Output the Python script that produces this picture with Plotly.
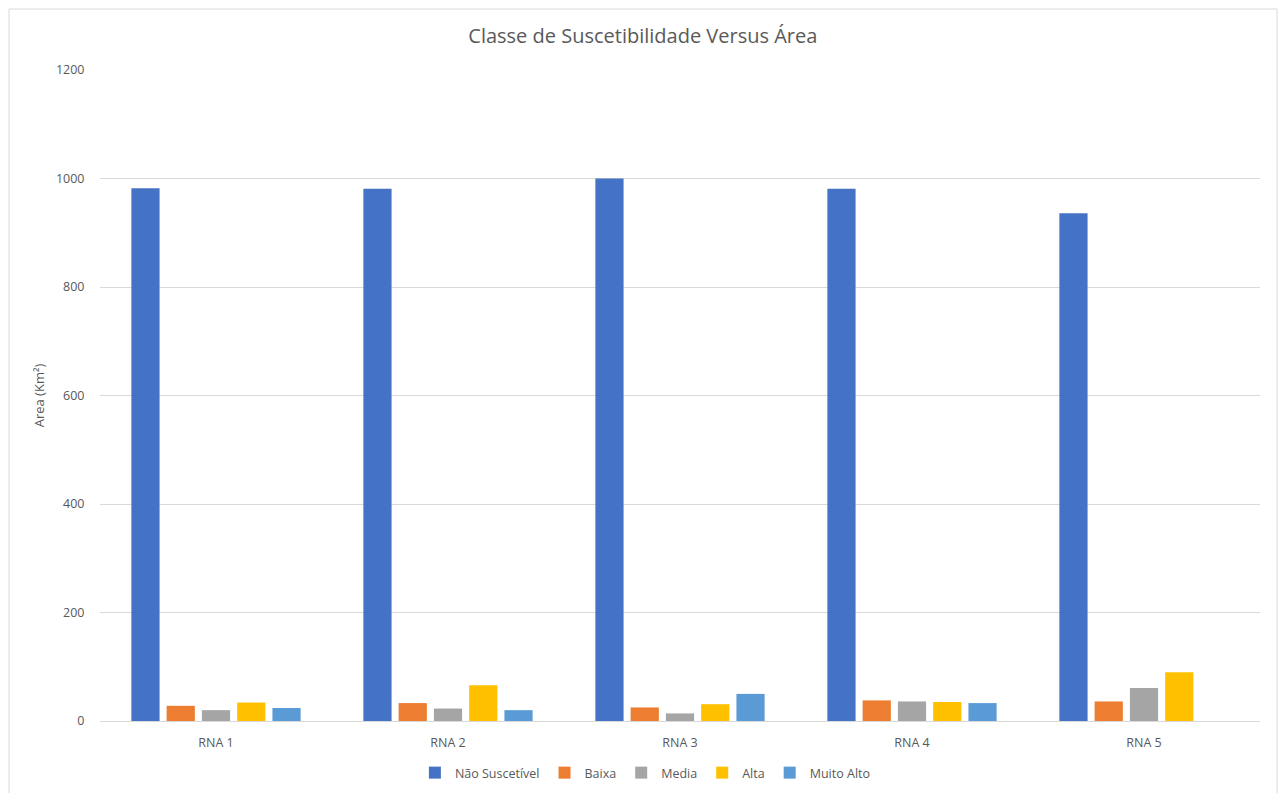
import plotly.graph_objects as go

# Susceptibility class areas (km²) per neural-network model
categories = ["RNA 1", "RNA 2", "RNA 3", "RNA 4", "RNA 5"]
nao_suscetivel = [982, 981, 1000, 981, 936]
baixa = [28, 33, 25, 38, 36]
media = [20, 23, 14, 36, 61]
alta = [34, 66, 31, 35, 90]
muito_alto = [24, 20, 50, 33, 0]

series = [
    ("Não Suscetível", nao_suscetivel, "#4472C4"),
    ("Baixa", baixa, "#ED7D31"),
    ("Media", media, "#A5A5A5"),
    ("Alta", alta, "#FFC000"),
    ("Muito Alto", muito_alto, "#5B9BD5"),
]

FONT = "Open Sans"
TEXT = "#595959"

fig = go.Figure()
for name, vals, color in series:
    fig.add_trace(go.Bar(
        x=categories, y=vals, name=name,
        marker=dict(color=color, line=dict(width=0)),
    ))

W, H = 1278, 793
L, R, T, B = 100, 18, 70, 72
pw, ph = W - L - R, H - T - B

fig.update_layout(
    width=W, height=H,
    margin=dict(l=L, r=R, t=T, b=B, autoexpand=False),
    paper_bgcolor="white", plot_bgcolor="white",
    font=dict(family=FONT, color=TEXT, size=12),
    barmode="group", bargap=0.24, bargroupgap=0.2,
    title=dict(
        text="Classe de Suscetibilidade Versus Área",
        x=0.503, xanchor="center", y=1 - 36 / H, yanchor="middle",
        font=dict(family=FONT, size=20, color=TEXT),
    ),
    legend=dict(
        orientation="h", x=0.505, xanchor="center", xref="container",
        y=1 - 773 / H, yanchor="middle", yref="container",
        font=dict(family=FONT, size=12.5, color=TEXT),
        itemwidth=30, traceorder="normal",
    ),
    xaxis=dict(
        showgrid=False, showline=True, linecolor="#d9d9d9", linewidth=1,
        ticks="outside", ticklen=10, tickcolor="rgba(0,0,0,0)",
        tickfont=dict(family=FONT, size=12.5, color=TEXT),
    ),
    yaxis=dict(
        range=[0, 1200], dtick=200,
        showgrid=True, gridcolor="#d9d9d9", gridwidth=1,
        zeroline=False, showline=False,
        ticks="outside", ticklen=12, tickcolor="rgba(0,0,0,0)",
        tickfont=dict(family=FONT, size=12.5, color=TEXT),
        title=dict(text="Area (Km²)", standoff=8,
                   font=dict(family=FONT, size=13, color=TEXT)),
    ),
    shapes=[dict(
        type="rect", xref="paper", yref="paper",
        x0=(9 - L) / pw, x1=(1277 - L) / pw,
        y0=-(H + 20 - (T + ph)) / ph, y1=((T + ph) - 9) / ph,
        line=dict(color="#d9d9d9", width=1), fillcolor="rgba(0,0,0,0)",
        layer="below",
    )],
)

fig.write_html("out.html")
